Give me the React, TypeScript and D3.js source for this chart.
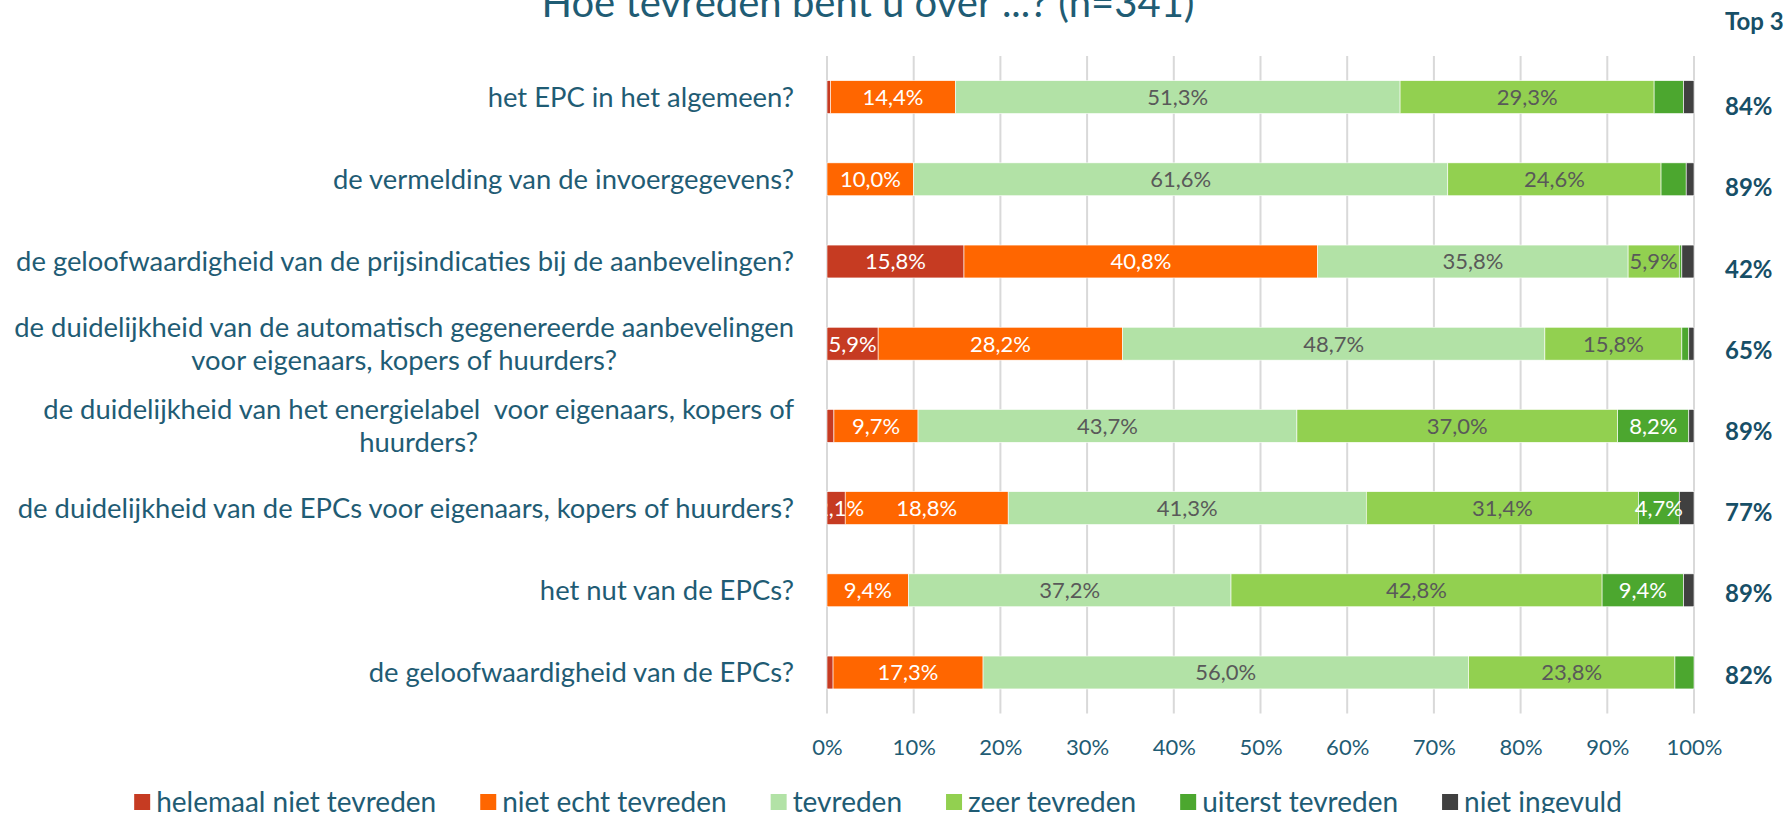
import React, { useRef, useEffect } from 'react';
import * as d3 from 'd3';

// categories (top to bottom), "\n" marks where the label wraps
const categories = [
  'het EPC in het algemeen?',
  'de vermelding van de invoergegevens?',
  'de geloofwaardigheid van de prijsindicaties bij de aanbevelingen?',
  'de duidelijkheid van de automatisch gegenereerde aanbevelingen\nvoor eigenaars, kopers of huurders?',
  'de duidelijkheid van het energielabel  voor eigenaars, kopers of\nhuurders?',
  'de duidelijkheid van de EPCs voor eigenaars, kopers of huurders?',
  'het nut van de EPCs?',
  'de geloofwaardigheid van de EPCs?',
];

const seriesNames = [
  'helemaal niet tevreden',
  'niet echt tevreden',
  'tevreden',
  'zeer tevreden',
  'uiterst tevreden',
  'niet ingevuld',
];

// percentages per category
const helemaalNiet = [0.4, 0, 15.8, 5.9, 0.8, 2.1, 0, 0.7];
const nietEcht = [14.4, 10.0, 40.8, 28.2, 9.7, 18.8, 9.4, 17.3];
const tevreden = [51.3, 61.6, 35.8, 48.7, 43.7, 41.3, 37.2, 56.0];
const zeerTevreden = [29.3, 24.6, 5.9, 15.8, 37.0, 31.4, 42.8, 23.8];
const uiterstTevreden = [3.4, 2.9, 0.3, 0.8, 8.2, 4.7, 9.4, 2.2];
const nietIngevuld = [1.2, 0.9, 1.4, 0.6, 0.6, 1.7, 1.2, 0];

const top3 = [84, 89, 42, 65, 89, 77, 89, 82];
const tickValues = [0, 10, 20, 30, 40, 50, 60, 70, 80, 90, 100];

const colors = ['#C63B22', '#FF6600', '#B2E2A6', '#92D050', '#4CA72F', '#404040'];
const labelColors = ['#ffffff', '#ffffff', '#595959', '#595959', '#ffffff', 'none'];

const textColor = '#1F5C74';
const font = "Lato, 'Open Sans', sans-serif";

const StackedChart = () => {
  const svgRef = useRef<SVGSVGElement>(null);

  useEffect(() => {
    const svg = d3.select(svgRef.current);
    svg.selectAll('*').remove();

    const width = 1786;
    const height = 813;
    const plot = { left: 827, right: 1694, top: 56, bottom: 713.6 };

    const cols = [helemaalNiet, nietEcht, tevreden, zeerTevreden, uiterstTevreden, nietIngevuld];
    const rows = categories.map((c, i) => {
      const r: any = { category: c };
      seriesNames.forEach((s, j) => { r[s] = cols[j][i]; });
      return r;
    });
    const stacked = d3.stack().keys(seriesNames)(rows);

    const x = d3.scaleLinear().domain([0, 100]).range([plot.left, plot.right]);
    const y = d3.scaleBand().domain(categories).range([plot.top, plot.bottom])
      .paddingInner(0.6).paddingOuter(0.3);
    const yTop = d3.scalePoint().domain(categories).range([106.5, 675]);

    // title (partly cut off at the top, as in the source)
    svg.append('text')
      .attr('x', 868).attr('y', 17)
      .attr('text-anchor', 'middle')
      .attr('font-family', font).attr('font-size', 40)
      .attr('fill', textColor)
      .text('Hoe tevreden bent u over ...? (n=341)');

    svg.append('text')
      .attr('x', 1725).attr('y', 30)
      .attr('font-family', font).attr('font-size', 24).attr('font-weight', 'bold')
      .attr('fill', '#174F67')
      .text('Top 3');

    // gridlines
    svg.append('g').selectAll('line').data(tickValues).join('line')
      .attr('x1', d => x(d)).attr('x2', d => x(d))
      .attr('y1', plot.top).attr('y2', plot.bottom)
      .attr('stroke', '#D9D9D9').attr('stroke-width', 2);

    // x axis labels
    const xAxis = svg.append('g')
      .attr('transform', `translate(0,${plot.bottom + 23})`)
      .call(d3.axisBottom(x).tickValues(tickValues).tickFormat(d => `${d}%`).tickSize(0));
    xAxis.select('.domain').remove();
    xAxis.selectAll('text')
      .attr('font-family', font).attr('font-size', 22)
      .attr('fill', textColor);

    // bars
    svg.append('g').selectAll('g').data(stacked).join('g')
      .attr('fill', (d, i) => colors[i])
      .selectAll('rect').data(d => d).join('rect')
      .attr('x', d => x(d[0]))
      .attr('y', d => y(d.data.category as any)!)
      .attr('width', d => x(d[1]) - x(d[0]))
      .attr('height', y.bandwidth())
      .attr('stroke', '#ffffff').attr('stroke-width', 0.6);

    // value labels, clipped to the plot area
    svg.append('clipPath').attr('id', 'plotClip')
      .append('rect')
      .attr('x', plot.left).attr('y', plot.top)
      .attr('width', plot.right - plot.left + 1).attr('height', plot.bottom - plot.top);

    const labels = svg.append('g').attr('clip-path', 'url(#plotClip)');
    stacked.forEach((s, i) => {
      labels.append('g').selectAll('text')
        .data(s.filter(d => {
          const v = d[1] - d[0];
          return i < 5 && (v >= 4 || (i === 0 && v >= 2));
        }))
        .join('text')
        .attr('x', d => (x(d[0]) + x(d[1])) / 2 + (i === 0 && d[1] - d[0] < 3 ? 4 : 0))
        .attr('y', d => y(d.data.category as any)! + y.bandwidth() / 2)
        .attr('dy', '0.36em')
        .attr('text-anchor', 'middle')
        .attr('font-family', font).attr('font-size', 22)
        .attr('fill', labelColors[i])
        .text(d => `${(d[1] - d[0]).toFixed(1).replace('.', ',')}%`);
    });

    // category labels: block right aligned, wrapped lines centred
    const catG = svg.append('g');
    categories.forEach(c => {
      const lines = c.split('\n');
      const cy = y(c)! + y.bandwidth() / 2;
      const lh = 33;
      const t = catG.append('text')
        .attr('font-family', font).attr('font-size', 27.4)
        .attr('fill', textColor)
        .attr('text-anchor', 'middle')
        .style('white-space', 'pre');
      const spans = lines.map((l, k) => t.append('tspan')
        .attr('y', cy + (k - (lines.length - 1) / 2) * lh)
        .attr('dy', '0.35em')
        .text(l));
      const w = d3.max(spans, s => (s.node() as SVGTextContentElement).getComputedTextLength()) || 0;
      spans.forEach(s => s.attr('x', 794 - w / 2));
    });

    // top 3 column
    svg.append('g').selectAll('text').data(top3).join('text')
      .attr('x', 1725)
      .attr('y', (d, i) => yTop(categories[i])!)
      .attr('dy', '0.36em')
      .attr('font-family', font).attr('font-size', 24).attr('font-weight', 'bold')
      .attr('fill', '#174F67')
      .text(d => `${d}%`);

    // legend, centred under the chart
    const legend = svg.append('g');
    const items = seriesNames.map((s, i) => {
      const g = legend.append('g');
      g.append('rect').attr('y', -8).attr('width', 16).attr('height', 16).attr('fill', colors[i]);
      const t = g.append('text').attr('x', 22).attr('dy', '0.35em')
        .attr('font-family', font).attr('font-size', 28)
        .attr('fill', textColor).text(s);
      return { g, w: 22 + (t.node() as SVGTextContentElement).getComputedTextLength() };
    });
    const gap = 44;
    const total = d3.sum(items, d => d.w) + gap * (items.length - 1);
    let cx = 878 - total / 2;
    items.forEach(it => {
      it.g.attr('transform', `translate(${cx},802)`);
      cx += it.w + gap;
    });

    svg.attr('width', width).attr('height', height);
  }, []);

  return (
    <svg ref={svgRef} width={1786} height={813}
      style={{ position: 'absolute', left: 0, top: 0, background: '#ffffff' }} />
  );
};

export default function App() {
  return <StackedChart />;
}
